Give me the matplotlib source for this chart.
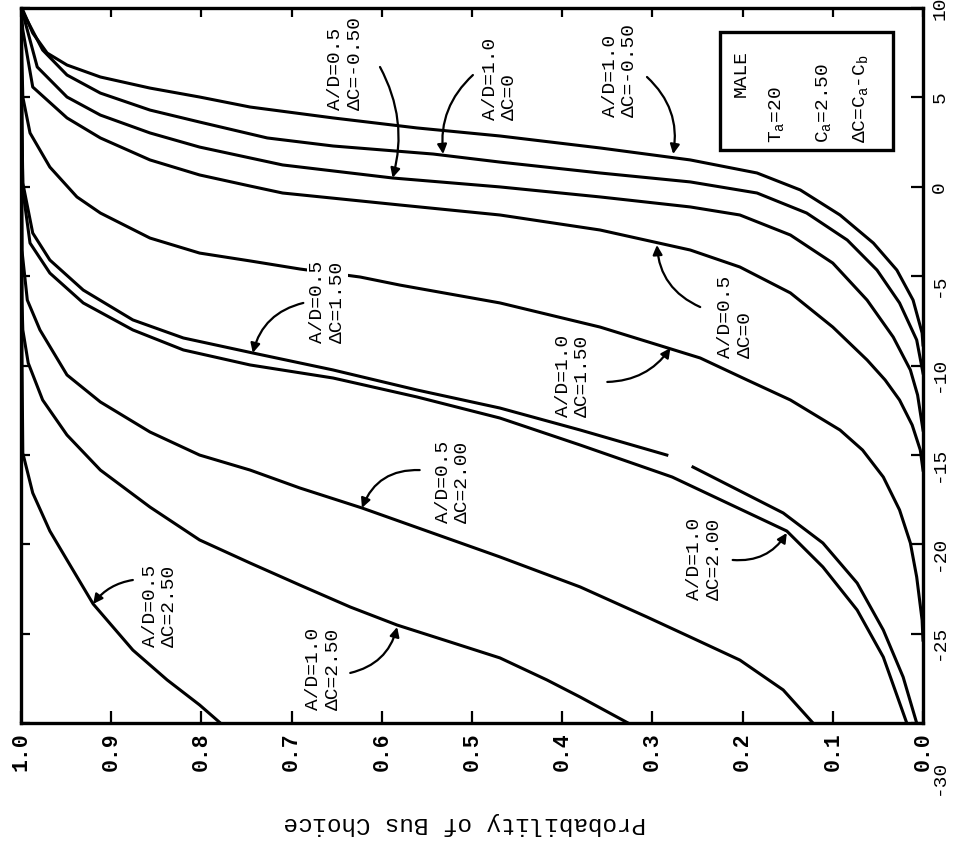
import numpy as np
import matplotlib
matplotlib.use("Agg")
import matplotlib.pyplot as plt
from matplotlib.patches import Rectangle
from matplotlib.transforms import ScaledTranslation

plt.rcParams['font.family'] = ['Liberation Mono', 'DejaVu Sans Mono']

# ---------------- data (x = horizontal variable, p = probability of bus choice) -------------
# A/D = 1.0, dC = -0.50
x_ad10_dcm050 = [10.0, 9.89, 8.60, 7.48, 6.81, 6.14, 5.52, 5.02, 4.46, 3.85, 3.29, 2.84, 2.17,
                 1.50, 0.77, -0.18, -1.58, -3.15, -4.66, -6.34, -8.18, -8.85]
p_ad10_dcm050 = [1.0, 0.998, 0.987, 0.971, 0.949, 0.912, 0.857, 0.802, 0.746, 0.654, 0.561, 0.469,
                 0.358, 0.258, 0.184, 0.136, 0.092, 0.055, 0.029, 0.011, 0.001, 0.0]
# A/D = 1.0, dC = 0
x_ad10_dc000 = [10.0, 9.78, 7.65, 6.25, 5.24, 4.29, 3.62, 2.73, 2.28, 1.83, 1.38, 0.77, 0.27,
                -0.35, -1.47, -2.98, -4.66, -6.50, -8.57, -10.42]
p_ad10_dc000 = [1.0, 0.998, 0.976, 0.949, 0.912, 0.857, 0.802, 0.727, 0.654, 0.543, 0.469, 0.358,
                0.258, 0.184, 0.129, 0.084, 0.051, 0.026, 0.007, 0.0]
# A/D = 0.5, dC = -0.50
x_ad05_dcm050 = [10.0, 9.33, 6.70, 5.02, 4.01, 3.01, 2.22, 1.22, 0.49, -0.01, -0.57, -1.13, -1.58,
                 -2.70, -4.27, -6.34, -8.41, -10.25, -11.65, -13.61]
p_ad05_dcm050 = [1.0, 0.996, 0.982, 0.949, 0.912, 0.857, 0.802, 0.710, 0.588, 0.469, 0.358, 0.258,
                 0.203, 0.147, 0.100, 0.062, 0.033, 0.014, 0.006, 0.0]
# A/D = 0.5, dC = 0
x_ad05_dc000 = [10.0, 8.77, 5.58, 3.85, 2.73, 1.50, 0.66, 0.04, -0.35, -1.02, -1.58, -2.42, -3.54,
                -4.49, -5.94, -7.85, -9.69, -10.81, -11.93, -13.33, -14.73, -15.85]
p_ad05_dc000 = [1.0, 0.998, 0.987, 0.949, 0.912, 0.857, 0.802, 0.746, 0.710, 0.580, 0.469, 0.358,
                0.258, 0.203, 0.147, 0.100, 0.062, 0.042, 0.026, 0.012, 0.003, 0.0]
# A/D = 1.0, dC = 1.50
x_ad10_dc150 = [10.0, 7.09, 5.02, 3.01, 1.10, -0.57, -1.47, -2.87, -3.71, -4.15, -4.60, -5.05,
                -5.50, -6.50, -7.85, -9.58, -10.81, -11.93, -13.61, -14.73, -16.24, -18.08, -19.93,
                -21.83, -24.24, -25.36]
p_ad10_dc150 = [1.0, 0.999, 0.998, 0.990, 0.968, 0.938, 0.912, 0.857, 0.802, 0.746, 0.691, 0.624,
                0.580, 0.469, 0.358, 0.247, 0.195, 0.147, 0.092, 0.067, 0.044, 0.026, 0.014,
                0.007, 0.001, 0.0]
# A/D = 0.5, dC = 1.50  (break in the printed line is kept as a gap)
x_ad05_dc150 = [10.0, 3.73, 0.21, -2.59, -4.10, -5.78, -7.45, -8.46, -9.30, -10.25, -11.37, -12.38,
                -13.61, -15.01, np.nan, -15.68, -18.25, -19.93, -22.17, -24.80, -27.43, -30.0]
p_ad05_dc150 = [1.0, 0.999, 0.998, 0.987, 0.968, 0.931, 0.876, 0.820, 0.743, 0.654, 0.561, 0.469,
                0.380, 0.284, np.nan, 0.255, 0.155, 0.111, 0.073, 0.044, 0.022, 0.007]
# A/D = 1.0, dC = 2.00
x_ad10_dc200 = [10.0, 3.17, -0.18, -3.15, -4.83, -6.50, -8.01, -9.13, -9.97, -10.70, -11.76,
                -12.94, -14.45, -16.24, -19.26, -21.27, -23.68, -26.31, -30.0]
p_ad10_dc200 = [1.0, 0.999, 0.998, 0.990, 0.968, 0.931, 0.876, 0.820, 0.746, 0.654, 0.561,
                0.469, 0.380, 0.278, 0.151, 0.111, 0.073, 0.044, 0.018]
# A/D = 0.5, dC = 2.00
x_ad05_dc200 = [10.0, -3.54, -6.34, -8.01, -10.53, -12.04, -13.72, -15.01, -15.85, -16.85, -17.97,
                -20.71, -22.39, -24.07, -25.19, -26.48, -28.15, -30.0]
p_ad05_dc200 = [1.0, 0.999, 0.993, 0.979, 0.949, 0.912, 0.857, 0.802, 0.746, 0.691, 0.622,
                0.469, 0.380, 0.306, 0.258, 0.203, 0.155, 0.122]
# A/D = 1.0, dC = 2.50
x_ad10_dc250 = [10.0, -6.34, -8.01, -9.86, -11.93, -13.89, -15.85, -17.92, -19.76, -21.05, -22.28,
                -23.51, -24.52, -25.47, -26.36, -27.59, -28.55, -30.0]
p_ad10_dc250 = [1.0, 0.999, 0.998, 0.992, 0.976, 0.949, 0.912, 0.857, 0.802, 0.746, 0.691,
                0.635, 0.583, 0.524, 0.469, 0.417, 0.380, 0.327]
# A/D = 0.5, dC = 2.50
x_ad05_dc250 = [10.0, -9.13, -14.90, -17.13, -19.26, -20.88, -23.34, -25.92, -27.59, -28.99, -30.0]
p_ad05_dc250 = [1.0, 0.999, 0.998, 0.987, 0.968, 0.949, 0.920, 0.876, 0.838, 0.802, 0.779]

curve_labels = ['A/D=1.0\nΔC=-0.50', 'A/D=1.0\nΔC=0', 'A/D=0.5\nΔC=-0.50', 'A/D=0.5\nΔC=0',
                'A/D=1.0\nΔC=1.50', 'A/D=0.5\nΔC=1.50', 'A/D=1.0\nΔC=2.00', 'A/D=0.5\nΔC=2.00',
                'A/D=1.0\nΔC=2.50', 'A/D=0.5\nΔC=2.50']

prob_ticks = [0.0, 0.1, 0.2, 0.3, 0.4, 0.5, 0.6, 0.7, 0.8, 0.9, 1.0]
prob_tick_labels = ['0.0', '0.1', '0.2', '0.3', '0.4', '0.5', '0.6', '0.7', '0.8', '0.9', '1.0']
x_ticks = [-30, -25, -20, -15, -10, -5, 0, 5, 10]
x_tick_labels = ['-30', '-25', '-20', '-15', '-10', '-5', '0', '5', '10']

box_lines = ['MALE', r'T$_{\mathregular{a}}$=20', r'C$_{\mathregular{a}}$=2.50',
             r'ΔC=C$_{\mathregular{a}}$-C$_{\mathregular{b}}$']

series = [(p_ad10_dcm050, x_ad10_dcm050), (p_ad10_dc000, x_ad10_dc000),
          (p_ad05_dcm050, x_ad05_dcm050), (p_ad05_dc000, x_ad05_dc000),
          (p_ad10_dc150, x_ad10_dc150), (p_ad05_dc150, x_ad05_dc150),
          (p_ad10_dc200, x_ad10_dc200), (p_ad05_dc200, x_ad05_dc200),
          (p_ad10_dc250, x_ad10_dc250), (p_ad05_dc250, x_ad05_dc250)]

# ---------------- layout (annotation placement, in data units) ----------------
label_pos = [(0.336, 3.90), (0.469, 3.73), (0.640, 4.29), (0.208, -9.58), (0.388, -12.88),
             (0.660, -8.74), (0.242, -23.12), (0.521, -18.81), (0.665, -29.27), (0.846, -25.75)]
arrow_start = [(0.306, 6.14), (0.499, 6.25), (0.602, 6.70), (0.247, -6.73), (0.350, -10.92),
               (0.687, -6.50), (0.211, -20.88), (0.558, -15.85), (0.635, -27.20), (0.876, -22.00)]
arrow_tip = [(0.277, 1.83), (0.532, 1.83), (0.588, 0.50), (0.295, -3.26), (0.280, -9.02),
             (0.743, -9.30), (0.151, -19.37), (0.622, -17.97), (0.583, -24.63), (0.920, -23.34)]
arrow_rad = [-0.27, 0.25, -0.2, -0.3, 0.25, 0.3, 0.3, 0.35, 0.3, 0.2]

fig = plt.figure(figsize=(9.56, 8.49), dpi=100)
ax = fig.add_axes([21 / 956, 126 / 849, 902 / 956, 715 / 849])

for p, x in series:
    ax.plot(p, x, color='black', lw=2.2, zorder=2, solid_joinstyle='round')

ax.set_xlim(1.0, 0.0)
ax.set_ylim(-30, 10)
for s in ax.spines.values():
    s.set_linewidth(2.4)

ax.yaxis.tick_right()
ax.set_xticks(prob_ticks)
ax.set_xticklabels(prob_tick_labels, rotation=90, fontsize=15.5, fontweight='bold')
ax.set_yticks(x_ticks)
ax.set_yticklabels(x_tick_labels, rotation=90, fontsize=14, va='center')
ax.tick_params(axis='x', direction='in', top=True, bottom=True, length=8.6, width=1.6, pad=7)
ax.tick_params(axis='y', direction='in', left=True, right=True, labelleft=False,
               labelright=True, length=8.6, width=1.6, pad=6)
for t in ax.xaxis.get_major_ticks():
    t.tick2line.set_markersize(6.5)
for t in ax.yaxis.get_major_ticks():
    t.tick1line.set_markersize(6.5)
    lab = t.label2
    txt = lab.get_text()
    if txt == '-30':
        lab.set_transform(lab.get_transform() + ScaledTranslation(0, -0.54, fig.dpi_scale_trans))
    elif txt.startswith('-'):
        lab.set_transform(lab.get_transform() + ScaledTranslation(0, -0.09, fig.dpi_scale_trans))

ax.set_xlabel('Probability of Bus Choice', rotation=180, fontsize=17.5)
ax.xaxis.set_label_coords(0.492, -0.124)
ax.xaxis.label.set_va('top')

for i, lbl in enumerate(curve_labels):
    kw = {}
    if i == 5:
        kw['bbox'] = dict(facecolor='white', edgecolor='none', pad=1.5)
    ax.text(label_pos[i][0], label_pos[i][1], lbl, rotation=90, ha='center', va='bottom',
            multialignment='left', fontsize=14, linespacing=1.2, zorder=4, **kw)
    ax.annotate('', xy=arrow_tip[i], xytext=arrow_start[i],
                arrowprops=dict(arrowstyle='-|>', connectionstyle=f'arc3,rad={arrow_rad[i]}',
                                color='black', lw=1.6, mutation_scale=14, shrinkA=0, shrinkB=0),
                zorder=5)

ax.add_patch(Rectangle((0.775, 0.801), 0.192, 0.165, fill=False, lw=2.4,
                       transform=ax.transAxes, zorder=4))
ax.text(0.201, 6.36, box_lines[0], rotation=90, ha='center', va='center', fontsize=14)
ax.text(0.172, 2.45, box_lines[1], rotation=90, ha='left', va='bottom', fontsize=14)
ax.text(0.120, 2.45, box_lines[2], rotation=90, ha='left', va='bottom', fontsize=14)
ax.text(0.079, 2.45, box_lines[3], rotation=90, ha='left', va='bottom', fontsize=14)

fig.savefig('out.png', dpi=100)
